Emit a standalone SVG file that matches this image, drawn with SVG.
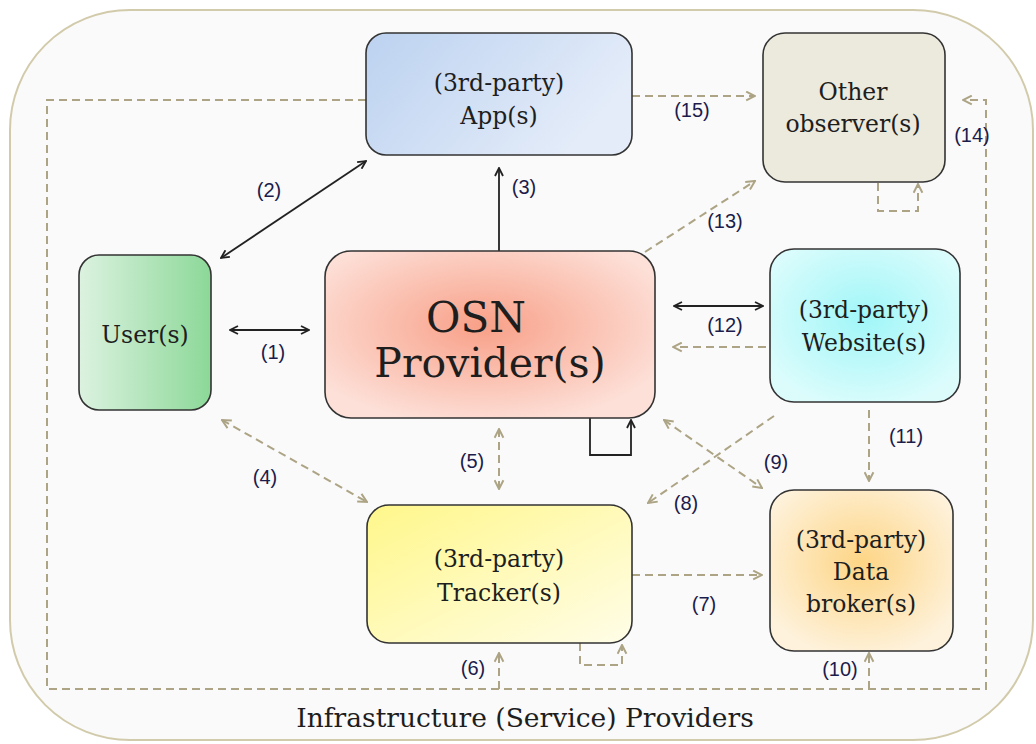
<svg xmlns="http://www.w3.org/2000/svg" width="1036" height="744" viewBox="0 0 1036 744">
<defs>
<style>
.node{stroke:#333;stroke-width:1.6}
.t{font-family:"DejaVu Serif","Liberation Serif",serif;fill:#1e1e1e;text-anchor:middle}
.n{font-size:23.5px}
.lbl{font-family:"Liberation Sans","Open Sans",sans-serif;font-size:20px;fill:#1c1c4c;text-anchor:middle}
.s{fill:none;stroke:#222;stroke-width:1.8}
.d{fill:none;stroke:#aca484;stroke-width:2;stroke-dasharray:8,5}
</style>
<marker id="ab" viewBox="0 0 10 10" refX="9" refY="5" markerWidth="10" markerHeight="10" markerUnits="userSpaceOnUse" orient="auto-start-reverse"><path d="M1,1 L9,5 L1,9" fill="none" stroke="#222" stroke-width="1.8"/></marker>
<marker id="at" viewBox="0 0 10 10" refX="9" refY="5" markerWidth="11" markerHeight="11" markerUnits="userSpaceOnUse" orient="auto-start-reverse"><path d="M1,1 L9,5 L1,9" fill="none" stroke="#aca484" stroke-width="1.8"/></marker>
<linearGradient id="gApp" x1="0" y1="0" x2="1" y2="0.4"><stop offset="0" stop-color="#bcd2f0"/><stop offset="1" stop-color="#e4ecf9"/></linearGradient>
<linearGradient id="gUser" x1="0" y1="0" x2="1" y2="0"><stop offset="0" stop-color="#dcf2e0"/><stop offset="1" stop-color="#8cd898"/></linearGradient>
<radialGradient id="gOsn" cx="0.48" cy="0.45" r="0.6"><stop offset="0" stop-color="#f8a088"/><stop offset="1" stop-color="#fde0d8"/></radialGradient>
<radialGradient id="gWeb" cx="0.5" cy="0.45" r="0.6"><stop offset="0" stop-color="#a0f6f8"/><stop offset="1" stop-color="#dcfcfc"/></radialGradient>
<linearGradient id="gTr" x1="0" y1="0" x2="1" y2="1"><stop offset="0" stop-color="#fff78a"/><stop offset="1" stop-color="#fffde8"/></linearGradient>
<radialGradient id="gBr" cx="0.5" cy="0.45" r="0.6"><stop offset="0" stop-color="#fdd585"/><stop offset="1" stop-color="#fef2dc"/></radialGradient>
</defs>
<rect x="0" y="0" width="1036" height="744" fill="#ffffff"/>
<g id="infrastructure">
<rect x="10" y="10" width="1023" height="730" rx="120" fill="#fafafa" stroke="#d2cbab" stroke-width="2"/>
<text class="t" x="525" y="727" font-size="26.5">Infrastructure (Service) Providers</text>
</g>
<g id="connectors">
<path class="d" d="M366,100 H47 V689 H986 V100 H963" marker-end="url(#at)"/>
<path class="d" d="M499,689 V653" marker-end="url(#at)"/>
<path class="d" d="M869,689 V653" marker-end="url(#at)"/>
<path class="s" d="M230,330 H309" marker-start="url(#ab)" marker-end="url(#ab)"/>
<path class="s" d="M221,258 L366,161" marker-start="url(#ab)" marker-end="url(#ab)"/>
<path class="s" d="M499,251 V168" marker-end="url(#ab)"/>
<path class="s" d="M674,306 H763" marker-start="url(#ab)" marker-end="url(#ab)"/>
<path class="s" d="M590,418 V455 H631 V420" marker-end="url(#ab)"/>
<path class="d" d="M632,96 H755" marker-end="url(#at)"/>
<path class="d" d="M645,252 L755,181" marker-end="url(#at)"/>
<path class="d" d="M878,183 V211 H918 V184" marker-end="url(#at)"/>
<path class="d" d="M766,347 H673" marker-end="url(#at)"/>
<path class="d" d="M869,410 V481" marker-end="url(#at)"/>
<path class="d" d="M774,416 L648,503" marker-end="url(#at)"/>
<path class="d" d="M664,420 L762,488" marker-start="url(#at)" marker-end="url(#at)"/>
<path class="d" d="M499,429 V489" marker-start="url(#at)" marker-end="url(#at)"/>
<path class="d" d="M222,420 L367,502" marker-start="url(#at)" marker-end="url(#at)"/>
<path class="d" d="M632,575 H762" marker-end="url(#at)"/>
<path class="d" d="M580,643 V665 H622 V645" marker-end="url(#at)"/>
</g>
<g id="labels">
<text class="lbl" x="273" y="359">(1)</text>
<text class="lbl" x="269" y="197">(2)</text>
<text class="lbl" x="524" y="194">(3)</text>
<text class="lbl" x="265" y="484">(4)</text>
<text class="lbl" x="472" y="468">(5)</text>
<text class="lbl" x="473" y="675">(6)</text>
<text class="lbl" x="704" y="611">(7)</text>
<text class="lbl" x="686" y="510">(8)</text>
<text class="lbl" x="776" y="469">(9)</text>
<text class="lbl" x="840" y="676">(10)</text>
<text class="lbl" x="906" y="443">(11)</text>
<text class="lbl" x="725" y="332">(12)</text>
<text class="lbl" x="725" y="228">(13)</text>
<text class="lbl" x="972" y="142">(14)</text>
<text class="lbl" x="692" y="117">(15)</text>
</g>
<g id="app">
<rect class="node" x="366" y="33" width="266" height="122" rx="20" fill="url(#gApp)"/>
<text class="t n" x="499" y="91">(3rd-party)</text>
<text class="t n" x="499" y="124">App(s)</text>
</g>
<g id="observer">
<rect class="node" x="763" y="33" width="182" height="149" rx="22" fill="#ece9dd"/>
<text class="t n" x="853" y="100">Other</text>
<text class="t n" x="853" y="132">observer(s)</text>
</g>
<g id="user">
<rect class="node" x="79" y="255" width="132" height="155" rx="20" fill="url(#gUser)"/>
<text class="t n" x="145" y="343">User(s)</text>
</g>
<g id="osn">
<rect class="node" x="325" y="251" width="330" height="167" rx="26" fill="url(#gOsn)"/>
<text class="t" x="476" y="332" font-size="42">OSN</text>
<text class="t" x="490" y="377" font-size="41">Provider(s)</text>
</g>
<g id="website">
<rect class="node" x="770" y="249" width="190" height="153" rx="24" fill="url(#gWeb)"/>
<text class="t n" x="864" y="318">(3rd-party)</text>
<text class="t n" x="864" y="351">Website(s)</text>
</g>
<g id="tracker">
<rect class="node" x="367" y="505" width="265" height="138" rx="22" fill="url(#gTr)"/>
<text class="t n" x="499" y="567">(3rd-party)</text>
<text class="t n" x="499" y="601">Tracker(s)</text>
</g>
<g id="broker">
<rect class="node" x="770" y="490" width="183" height="161" rx="24" fill="url(#gBr)"/>
<text class="t n" x="861" y="548">(3rd-party)</text>
<text class="t n" x="861" y="580">Data</text>
<text class="t n" x="861" y="612">broker(s)</text>
</g>
</svg>
